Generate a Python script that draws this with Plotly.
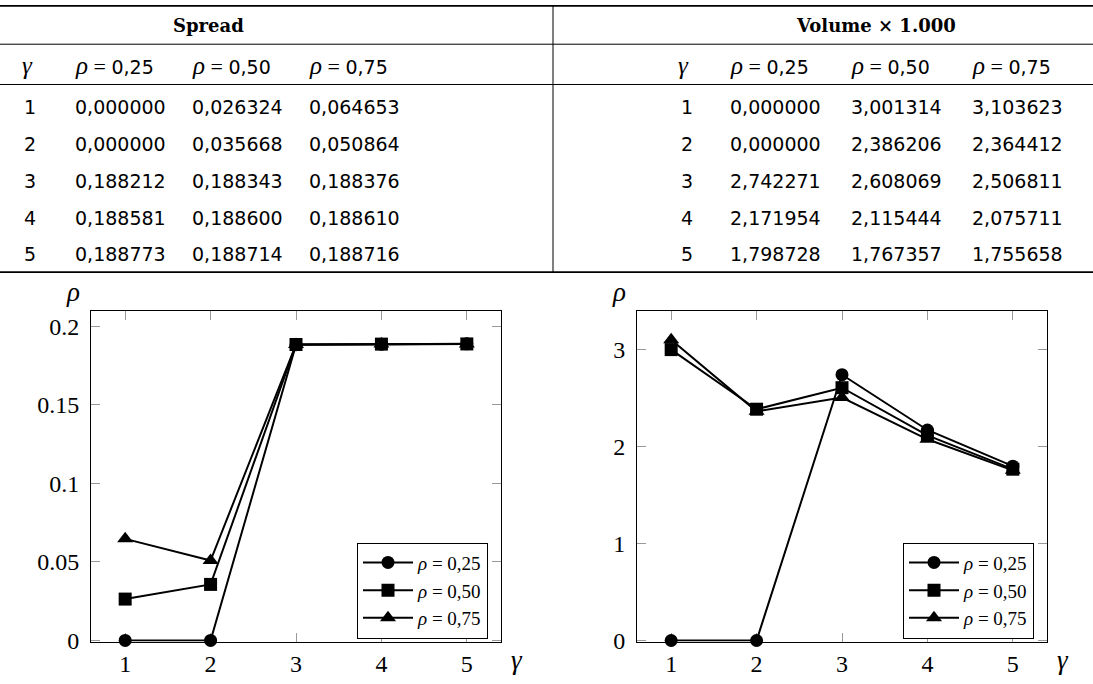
import plotly.graph_objects as go

W, H = 1093, 684

gamma = [1, 2, 3, 4, 5]
rho_labels = ["0,25", "0,50", "0,75"]
spread_025 = [0.000000, 0.000000, 0.188212, 0.188581, 0.188773]
spread_050 = [0.026324, 0.035668, 0.188343, 0.188600, 0.188714]
spread_075 = [0.064653, 0.050864, 0.188376, 0.188610, 0.188716]
volume_025 = [0.000000, 0.000000, 2.742271, 2.171954, 1.798728]
volume_050 = [3.001314, 2.386206, 2.608069, 2.115444, 1.767357]
volume_075 = [3.103623, 2.364412, 2.506811, 2.075711, 1.755658]
spread_ticks = [0, 0.05, 0.1, 0.15, 0.2]
spread_ticktext = ["0", "0.05", "0.1", "0.15", "0.2"]
volume_ticks = [0, 1, 2, 3]
volume_ticktext = ["0", "1", "2", "3"]
x_ticks = [1, 2, 3, 4, 5]

SANS = "DejaVu Sans"
SERIF = "Liberation Serif"
SLAB = "DejaVu Serif"
symbols = ["circle", "square", "triangle-up"]
msizes = [13, 13, 14]


def px(x):
    return x / W


def py(y):
    return 1 - y / H


def fmt(v):
    return f"{v:.6f}".replace(".", ",")


def greek(ch, size=25):
    return f"<span style=\"font-family:'{SERIF}';font-size:{size}px\"><i>{ch}</i></span>"


fig = go.Figure()

spread_series = [spread_025, spread_050, spread_075]
volume_series = [volume_025, volume_050, volume_075]

for i, ys in enumerate(spread_series):
    fig.add_trace(go.Scatter(
        x=gamma, y=ys, mode="lines+markers", xaxis="x", yaxis="y",
        name=f"<i>ρ</i> = {rho_labels[i]}", legend="legend",
        line=dict(color="black", width=2),
        marker=dict(symbol=symbols[i], size=msizes[i], color="black"),
        cliponaxis=False,
    ))
for i, ys in enumerate(volume_series):
    fig.add_trace(go.Scatter(
        x=gamma, y=ys, mode="lines+markers", xaxis="x2", yaxis="y2",
        name=f"<i>ρ</i> = {rho_labels[i]}", legend="legend2",
        line=dict(color="black", width=2),
        marker=dict(symbol=symbols[i], size=msizes[i], color="black"),
        cliponaxis=False,
    ))

ydom = [py(653), py(317)]
axis_common = dict(
    showline=True, linecolor="black", linewidth=1, mirror="ticks",
    ticks="inside", ticklen=9, tickcolor="#999999", tickwidth=1,
    showgrid=False, zeroline=False, layer="below traces",
    tickfont=dict(family=SERIF, size=24, color="black"),
)

legend_common = dict(
    xanchor="right", yanchor="bottom",
    bordercolor="black", borderwidth=1, bgcolor="white",
    font=dict(family=SERIF, size=19, color="black"),
    tracegroupgap=0, itemwidth=50,
)

fig.update_layout(
    width=W, height=H, margin=dict(l=0, r=0, t=0, b=0),
    paper_bgcolor="white", plot_bgcolor="white",
    showlegend=True,
    xaxis=dict(domain=[px(91), px(501)], range=[0.6, 5.4], tickvals=x_ticks,
               anchor="y", ticklabelstandoff=1, **axis_common),
    yaxis=dict(domain=ydom, range=[-0.0007, 0.2094], tickvals=spread_ticks,
               ticktext=spread_ticktext, anchor="x", ticklabelstandoff=6,
               **axis_common),
    xaxis2=dict(domain=[px(637), px(1047)], range=[0.6, 5.4], tickvals=x_ticks,
                anchor="y2", ticklabelstandoff=1, **axis_common),
    yaxis2=dict(domain=ydom, range=[-0.011, 3.395], tickvals=volume_ticks,
                ticktext=volume_ticktext, anchor="x2", ticklabelstandoff=6,
                **axis_common),
    legend=dict(x=px(488), y=py(650), **legend_common),
    legend2=dict(x=px(1034), y=py(650), **legend_common),
)

ann = []
shapes = []


def text(x, y, s, size=19, family=SANS, xanchor="left", bold=False):
    if bold:
        s = f"<b>{s}</b>"
    ann.append(dict(x=px(x), y=py(y), xref="paper", yref="paper", text=s,
                    showarrow=False, xanchor=xanchor, yanchor="middle",
                    font=dict(family=family, size=size, color="black")))


def hline(x0, x1, y, w=1):
    shapes.append(dict(type="line", xref="paper", yref="paper",
                       x0=px(x0), x1=px(x1), y0=py(y), y1=py(y),
                       line=dict(color="black", width=w)))


# table rules
hline(0, W, 6, 1.6)
hline(0, W, 45, 1)
hline(0, W, 86, 1)
hline(0, W, 277, 1.6)
shapes.append(dict(type="line", xref="paper", yref="paper",
                   x0=px(553), x1=px(553), y0=py(6), y1=py(277),
                   line=dict(color="black", width=1)))

# table headers
text(208, 26, "Spread", size=18, family=SLAB, xanchor="center", bold=True)
text(876, 26, "Volume × 1.000", size=18, family=SLAB, xanchor="center", bold=True)

row_y = [109, 147, 184, 222, 259]
head_y = 67
left_cols = [73, 190, 307]
right_cols = [728, 849, 970]


def rho_head(r):
    return (f"{greek('ρ')}<span style=\"font-family:'{SERIF}';font-size:22px\"> = </span>{r}")


text(20, head_y, greek("γ"), size=19)
text(676, head_y, greek("γ"), size=19)
for j, r in enumerate(rho_labels):
    text(left_cols[j], head_y, rho_head(r))
    text(right_cols[j], head_y, rho_head(r))

for k, g in enumerate(gamma):
    text(22, row_y[k], str(g))
    text(679, row_y[k], str(g))
    for j in range(3):
        text(left_cols[j], row_y[k], fmt(spread_series[j][k]))
        text(right_cols[j], row_y[k], fmt(volume_series[j][k]))

# axis labels
text(73, 297, "<i>ρ</i>", size=27, family=SERIF, xanchor="center")
text(619, 297, "<i>ρ</i>", size=27, family=SERIF, xanchor="center")
text(517, 672, "<i>γ</i>", size=27, family=SERIF, xanchor="center")
text(1063, 672, "<i>γ</i>", size=27, family=SERIF, xanchor="center")

fig.update_layout(annotations=ann, shapes=shapes)
fig.write_html("out.html")
